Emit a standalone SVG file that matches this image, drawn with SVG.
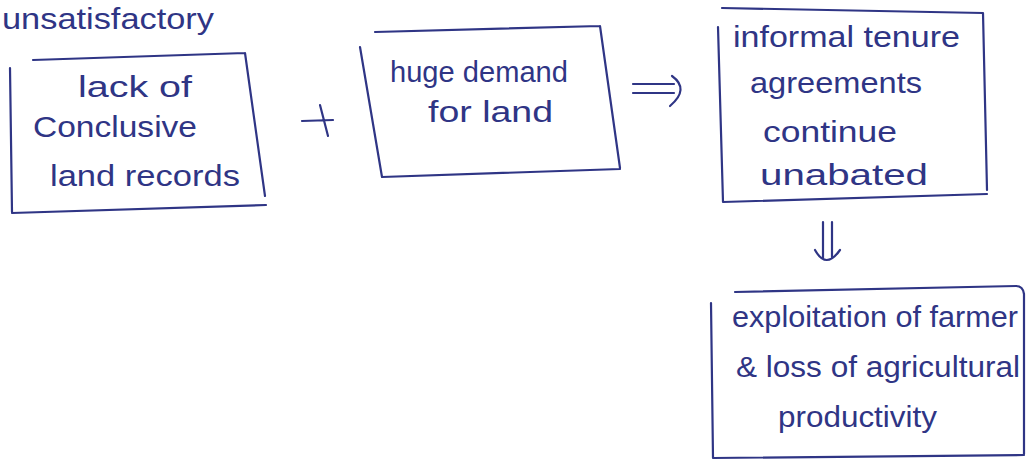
<svg xmlns="http://www.w3.org/2000/svg" width="1026" height="460" viewBox="0 0 1026 460">
  <style>
    .ink { fill: none; stroke: #2f3585; stroke-width: 2.2; stroke-linecap: round; stroke-linejoin: round; }
    .txt { font-family: "Liberation Sans", "DejaVu Sans", sans-serif; font-size: 30px; fill: #2f3585; }
  </style>
  <rect width="1026" height="460" fill="#ffffff"/>

  <!-- heading along the top edge -->
  <text class="txt" x="2" y="29" font-size="30" textLength="212" lengthAdjust="spacingAndGlyphs">unsatisfactory</text>

  <g id="node-records">
    <path class="ink" d="M33 60 L245 53 M245 53 L265 196 M10 68 L12 212 M12 213 L266 205"/>
    <text class="txt" x="78" y="97" textLength="114" lengthAdjust="spacingAndGlyphs">lack of</text>
    <text class="txt" x="33" y="137" textLength="164" lengthAdjust="spacingAndGlyphs">Conclusive</text>
    <text class="txt" x="50" y="186" textLength="190" lengthAdjust="spacingAndGlyphs">land records</text>
  </g>

  <g id="node-demand">
    <path class="ink" d="M375 32 L600 26 M600 26 L620 168 M360 47 L382 177 M382 177 L620 169"/>
    <text class="txt" x="390" y="82" textLength="178" lengthAdjust="spacingAndGlyphs">huge demand</text>
    <text class="txt" x="428" y="122" textLength="125" lengthAdjust="spacingAndGlyphs">for land</text>
  </g>

  <g id="node-tenure">
    <path class="ink" d="M722 8 L983 13 M983 13 L987 190 M718 27 L723 202 M723 202 L987 194"/>
    <text class="txt" x="733" y="47" textLength="227" lengthAdjust="spacingAndGlyphs">informal tenure</text>
    <text class="txt" x="750" y="93" textLength="172" lengthAdjust="spacingAndGlyphs">agreements</text>
    <text class="txt" x="763" y="142" textLength="134" lengthAdjust="spacingAndGlyphs">continue</text>
    <text class="txt" x="760" y="185" textLength="168" lengthAdjust="spacingAndGlyphs">unabated</text>
  </g>

  <g id="node-exploitation">
    <path class="ink" d="M735 292 L1016 286 Q1023 286 1024 294 M1024 294 L1024 454 M711 303 L713 458 M713 458 L1024 455"/>
    <text class="txt" x="732" y="327" textLength="286" lengthAdjust="spacingAndGlyphs">exploitation of farmer</text>
    <text class="txt" x="736" y="377" textLength="284" lengthAdjust="spacingAndGlyphs">&amp; loss of agricultural</text>
    <text class="txt" x="778" y="427" textLength="159" lengthAdjust="spacingAndGlyphs">productivity</text>
  </g>

  <g id="connectors">
    <!-- plus sign between the two causes -->
    <path class="ink" d="M302 121 L333 120 M320 105 L328 136"/>
    <!-- implies arrow towards the tenure box -->
    <path class="ink" d="M633 84 L674 84 M633 93 L674 93 M672 76 Q690 89 670 106"/>
    <!-- downward implies arrow -->
    <path class="ink" d="M823 222 L823 258 M832 222 L832 258 M815 250 Q826 270 840 250"/>
  </g>
</svg>
